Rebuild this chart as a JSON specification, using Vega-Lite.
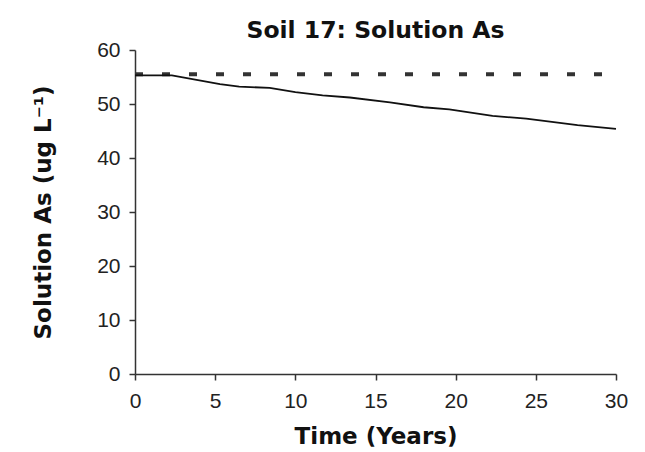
{
  "$schema": "https://vega.github.io/schema/vega-lite/v6.json",
  "autosize": "none",
  "width": 481,
  "height": 324,
  "padding": {"left": 135, "top": 50, "right": 29, "bottom": 78},
  "background": "white",
  "title": {
    "text": "Soil 17: Solution As",
    "font": "DejaVu Sans",
    "fontSize": 23.5,
    "fontWeight": "bold",
    "color": "#111",
    "anchor": "middle",
    "offset": -3
  },
  "datasets": {
    "model": [
      {"t": 0, "as": 55.3},
      {"t": 2.3, "as": 55.3},
      {"t": 5.3, "as": 53.7},
      {"t": 6.5, "as": 53.2},
      {"t": 8.4, "as": 53.0},
      {"t": 10, "as": 52.2},
      {"t": 11.7, "as": 51.6},
      {"t": 13.4, "as": 51.2},
      {"t": 15.9, "as": 50.3},
      {"t": 18, "as": 49.4},
      {"t": 19.6, "as": 49.0},
      {"t": 22.3, "as": 47.8},
      {"t": 24.4, "as": 47.3},
      {"t": 27.6, "as": 46.1},
      {"t": 30, "as": 45.4}
    ],
    "initial": [
      {"t": 0, "as": 55.5},
      {"t": 30, "as": 55.5}
    ]
  },
  "encoding": {
    "x": {
      "field": "t",
      "type": "quantitative",
      "scale": {"domain": [0, 30], "nice": false},
      "axis": {
        "title": "Time (Years)",
        "values": [0, 5, 10, 15, 20, 25, 30],
        "grid": false,
        "labelFlush": false,
        "domainColor": "#333",
        "domainWidth": 1.5,
        "tickColor": "#333",
        "tickWidth": 1.5,
        "tickSize": 6,
        "labelFont": "Liberation Sans",
        "labelFontSize": 21,
        "labelColor": "#222",
        "labelPadding": 10,
        "titleFont": "DejaVu Sans",
        "titleFontSize": 23,
        "titleFontWeight": "bold",
        "titleColor": "#111",
        "titlePadding": 14
      }
    },
    "y": {
      "field": "as",
      "type": "quantitative",
      "scale": {"domain": [0, 60], "nice": false},
      "axis": {
        "title": "Solution As (ug L⁻¹)",
        "values": [0, 10, 20, 30, 40, 50, 60],
        "grid": false,
        "labelFlush": false,
        "domainColor": "#333",
        "domainWidth": 1.5,
        "tickColor": "#333",
        "tickWidth": 1.5,
        "tickSize": 6,
        "labelFont": "Liberation Sans",
        "labelFontSize": 21,
        "labelColor": "#222",
        "labelPadding": 9,
        "titleFont": "DejaVu Sans",
        "titleFontSize": 23,
        "titleFontWeight": "bold",
        "titleColor": "#111",
        "titlePadding": 41
      }
    }
  },
  "layer": [
    {
      "data": {"name": "initial"},
      "mark": {"type": "line", "color": "#333", "strokeWidth": 4, "strokeDash": [8, 19]}
    },
    {
      "data": {"name": "model"},
      "mark": {"type": "line", "color": "#111", "strokeWidth": 1.8}
    }
  ],
  "config": {"view": {"stroke": null}}
}
